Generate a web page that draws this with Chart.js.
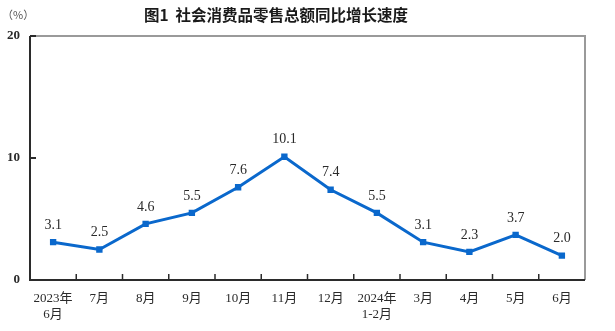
<!DOCTYPE html>
<html>
<head>
<meta charset="utf-8">
<script src="https://cdn.jsdelivr.net/npm/chart.js@4/dist/chart.umd.min.js"></script>
<style>
  html, body { margin: 0; padding: 0; background: #fff; }
  #wrap { width: 615px; height: 331px; position: relative; }
</style>
</head>
<body>
<div id="wrap"><canvas id="c" width="615" height="331"></canvas></div>
<script>
// Monthly year-on-year growth of total retail sales of consumer goods (%)
const categories = [
  ['2023年', '6月'], '7月', '8月', '9月', '10月', '11月', '12月',
  ['2024年', '1-2月'], '3月', '4月', '5月', '6月'
];
const growth = [3.1, 2.5, 4.6, 5.5, 7.6, 10.1, 7.4, 5.5, 3.1, 2.3, 3.7, 2.0];
const yTicks = [0, 10, 20];
const titleText = '图1  社会消费品零售总额同比增长速度';
const unitText = '（%）';

const SERIF = '"Liberation Serif", "Noto Sans CJK SC", serif';
const TEXT_COLOR = '#2a2a2a';
const LINE_BLUE = '#0a68cc';

// Frame, inward ticks, title and point value labels
const decorations = {
  id: 'decorations',
  afterDraw(chart) {
    const { ctx, chartArea: a } = chart;
    const xs = chart.scales.x, ys = chart.scales.y;
    ctx.save();

    // light top and right frame
    ctx.strokeStyle = '#9a9a9a';
    ctx.lineWidth = 2;
    ctx.beginPath();
    ctx.moveTo(a.left, a.top);
    ctx.lineTo(a.right, a.top);
    ctx.lineTo(a.right, a.bottom);
    ctx.stroke();

    // dark left and bottom axes
    ctx.strokeStyle = '#2b2b2b';
    ctx.beginPath();
    ctx.moveTo(a.left, a.top);
    ctx.lineTo(a.left, a.bottom);
    ctx.lineTo(a.right, a.bottom);
    ctx.stroke();

    // y ticks pointing inward
    ctx.lineWidth = 2;
    yTicks.forEach(v => {
      const y = ys.getPixelForValue(v);
      ctx.beginPath();
      ctx.moveTo(a.left, y);
      ctx.lineTo(a.left + 6, y);
      ctx.stroke();
    });

    // x ticks between categories pointing inward
    ctx.lineWidth = 1.5;
    for (let i = 0; i < categories.length - 1; i++) {
      const x = (xs.getPixelForValue(i) + xs.getPixelForValue(i + 1)) / 2;
      ctx.beginPath();
      ctx.moveTo(x, a.bottom);
      ctx.lineTo(x, a.bottom - 6);
      ctx.stroke();
    }

    // title
    ctx.fillStyle = '#1a1a1a';
    ctx.font = 'bold 15.5px "Noto Sans CJK SC", sans-serif';
    ctx.textAlign = 'center';
    ctx.textBaseline = 'middle';
    ctx.fillText(titleText, 276, 15);

    // unit
    ctx.fillStyle = '#555';
    ctx.font = '11px "Noto Sans CJK SC", sans-serif';
    ctx.textAlign = 'left';
    ctx.fillText(unitText, 2, 15);

    // value labels above points
    const meta = chart.getDatasetMeta(0);
    ctx.fillStyle = TEXT_COLOR;
    ctx.font = '14px ' + SERIF;
    ctx.textAlign = 'center';
    ctx.textBaseline = 'middle';
    meta.data.forEach((pt, i) => {
      ctx.fillText(growth[i].toFixed(1), pt.x, pt.y - 17);
    });

    ctx.restore();
  }
};

new Chart(document.getElementById('c'), {
  type: 'line',
  data: {
    labels: categories,
    datasets: [{
      data: growth,
      borderColor: LINE_BLUE,
      backgroundColor: LINE_BLUE,
      borderWidth: 3,
      pointStyle: 'rect',
      pointRadius: 4.5,
      pointBorderWidth: 0,
      tension: 0
    }]
  },
  options: {
    responsive: false,
    animation: false,
    events: [],
    layout: { padding: { top: 36, right: 30, left: 0, bottom: 0 } },
    plugins: { legend: { display: false }, tooltip: { enabled: false }, title: { display: false } },
    scales: {
      x: {
        offset: true,
        grid: { display: false },
        border: { display: false },
        ticks: {
          color: TEXT_COLOR,
          font: { family: SERIF, size: 13, lineHeight: 1.25 },
          padding: 2,
          maxRotation: 0,
          autoSkip: false
        },
        afterFit(scale) { scale.height = 51; }
      },
      y: {
        min: 0,
        max: 20,
        grid: { display: false },
        border: { display: false },
        afterBuildTicks(scale) { scale.ticks = yTicks.map(v => ({ value: v })); },
        ticks: {
          color: TEXT_COLOR,
          font: { family: SERIF, size: 13, weight: 'bold' },
          padding: 2
        },
        afterFit(scale) { scale.width = 30; }
      }
    }
  },
  plugins: [decorations]
});
</script>
</body>
</html>
